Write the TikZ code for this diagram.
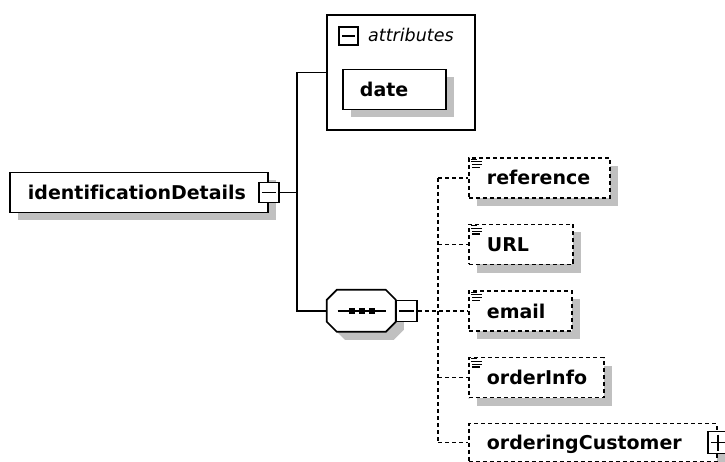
\documentclass[tikz,border=0pt]{standalone}
\usepackage{fontspec}
\setmainfont{DejaVu Sans}[Ligatures={NoCommon}]
\definecolor{shadowgray}{RGB}{192,192,192}
\newcommand\xsdicon[1]{%
  \draw[line width=1.1pt] ([shift={(3,2)}]#1.north west) -- ++(6,0)
    ([shift={(3,4.8)}]#1.north west) -- ++(11,0)
    ([shift={(4,7.6)}]#1.north west) -- ++(10,0)
    ([shift={(4,10.4)}]#1.north west) -- ++(8,0);}
\begin{document}
\begin{tikzpicture}[x=1pt,y=-1pt,
  shadowed/.style={preaction={draw=none,fill=shadowgray,transform canvas={xshift=8pt,yshift=-8pt}}},
  elembox/.style={draw=black,line width=1.8pt,fill=white,shadowed,anchor=west,
     minimum height=40pt,inner xsep=18pt,inner ysep=0pt,align=left,
     text height=14pt,text depth=0pt,font=\fontsize{19}{20}\selectfont\bfseries},
  optbox/.style={elembox,dash pattern=on 4pt off 3pt},
  toggle/.style={draw=black,line width=1.5pt,fill=white,minimum width=20pt,minimum height=20pt,inner sep=0pt},
  minusbox/.style={toggle,path picture={\draw[line width=1.5pt] ([xshift=3pt]path picture bounding box.west) -- ([xshift=-3pt]path picture bounding box.east);}},
  plusbox/.style={toggle,path picture={\draw[line width=1.5pt] ([xshift=3pt]path picture bounding box.west) -- ([xshift=-3pt]path picture bounding box.east)
      ([yshift=-3pt]path picture bounding box.north) -- ([yshift=3pt]path picture bounding box.south);}},
  conn/.style={line width=1.7pt},
  dconn/.style={line width=1.7pt,dash pattern=on 4pt off 3pt},
]
\useasboundingbox (0,0) rectangle (725,462);
\clip (0,0) rectangle (725,462);

% root element
\node[elembox,text width=222pt] (id) at (9,192.5) {identificationDetails};
\node[minusbox] (idm) at (id.east) {};

% attributes group
\node[draw=black,line width=1.7pt,fill=white,minimum width=148pt,minimum height=115pt,inner sep=0pt] (attrs) at (401,72.5) {};
\node[minusbox,minimum width=19pt,minimum height=18pt] (attm) at (348.5,36) {};
\node[anchor=base west,inner sep=0pt,font=\fontsize{17.5}{20}\selectfont\itshape] (attl) at (368,42) {attributes};
\node[elembox,text width=69pt,inner xsep=17pt] (date) at (342,89.5) {date};

% sequence compositor
\node[minimum width=69pt,minimum height=42pt,inner sep=0pt] (seq) at (361.5,311) {};
\fill[shadowgray] ([shift={(18,8)}]seq.north west) -- ++(49,0) -- ++(10,10) -- ++(0,22) -- ++(-10,10) -- ++(-49,0) -- ++(-10,-10) -- ++(0,-22) -- cycle;
\draw[line width=1.7pt,fill=white] ([shift={(10,0)}]seq.north west) -- ++(49,0) -- ++(10,10) -- ++(0,22) -- ++(-10,10) -- ++(-49,0) -- ++(-10,-10) -- ++(0,-22) -- cycle;
\draw[line width=1.6pt] ([xshift=-24pt]seq.center) -- ([xshift=24pt]seq.center);
\foreach \dx in {-10,0,10}
  \fill ([shift={(\dx-3,-3)}]seq.center) rectangle ++(6,6);
\node[minusbox,minimum width=21pt,minimum height=21pt] (seqm) at (406.5,311) {};

% children
\node[optbox,text width=105pt] (ref) at (468,178) {reference};
\node[optbox,text width=68pt] (url) at (468,244.5) {URL};
\node[optbox,text width=67pt] (email) at (468,311) {email};
\node[optbox,text width=99pt] (oinfo) at (468,377.5) {orderInfo};
\node[optbox,text width=212pt,minimum height=38pt] (ocust) at (468,442.5) {orderingCustomer};
\node[plusbox,minimum height=22pt] (ocp) at (ocust.east) {};
\xsdicon{ref}
\xsdicon{url}
\xsdicon{email}
\xsdicon{oinfo}

% connectors
\coordinate (j) at (297,192.5);
\coordinate (bus) at (438,311);
\draw[conn] (idm.east) -- (j);
\draw[conn] (attrs.west) -| (j) |- (seq.west);
\draw[dconn] (seqm.east) -- (email.west);
\draw[dconn] (ref.west -| bus) -- (ocust.west -| bus);
\foreach \n in {ref,url,oinfo,ocust}
  \draw[dconn] (\n.west -| bus) -- (\n.west);
\end{tikzpicture}
\end{document}
